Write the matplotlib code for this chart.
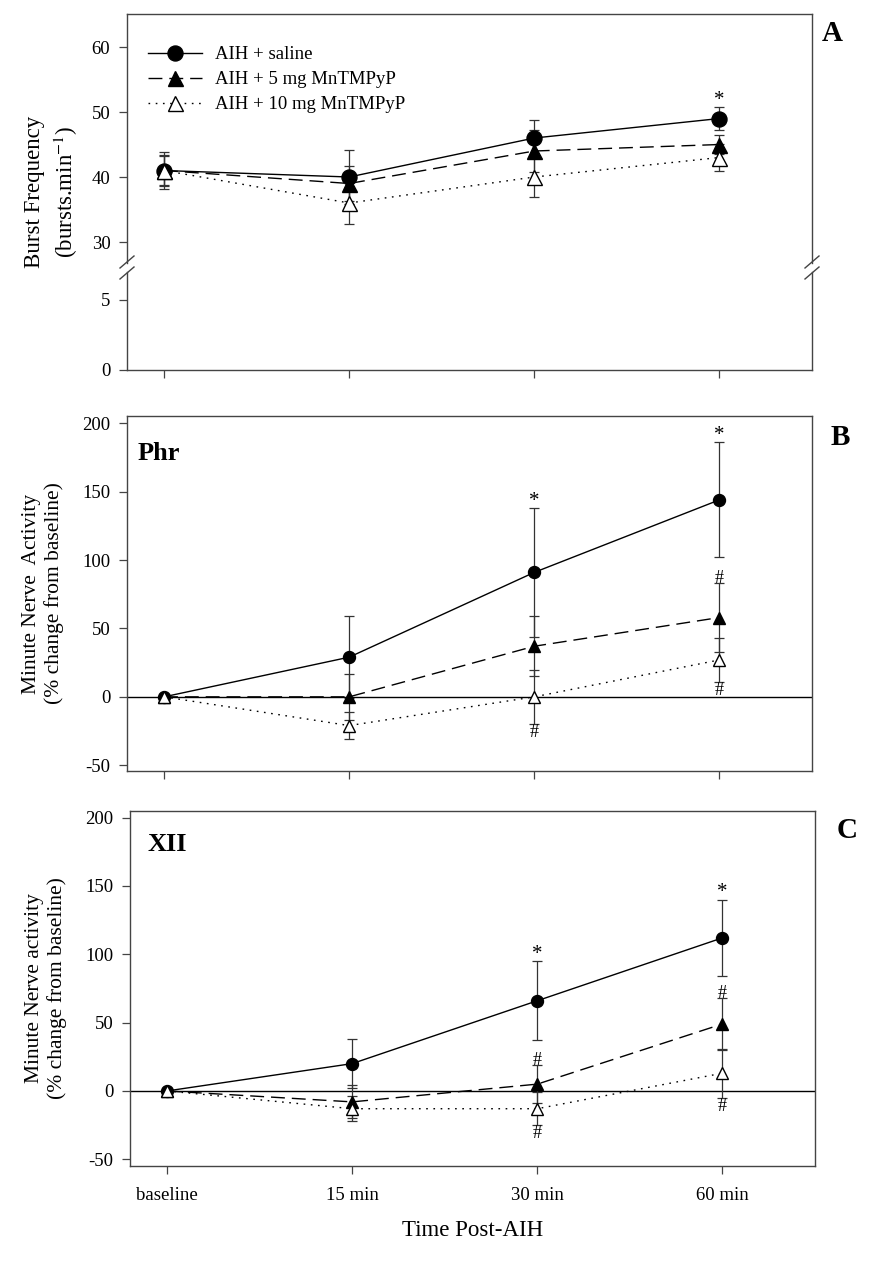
import numpy as np
import matplotlib
matplotlib.use("Agg")
import matplotlib.pyplot as plt
from matplotlib.lines import Line2D

plt.rcParams['font.family'] = ['Liberation Serif', 'DejaVu Serif']
plt.rcParams['mathtext.fontset'] = 'stix'
plt.rcParams['axes.unicode_minus'] = False

# ============================================================
# DATA
# ============================================================
time_labels = ["baseline", "15 min", "30 min", "60 min"]
group_labels = ["AIH + saline", "AIH + 5 mg MnTMPyP", "AIH + 10 mg MnTMPyP"]

# panel A - burst frequency (bursts/min)
freq_saline = [41, 40, 46, 49]
freq_saline_err = [2.4, 4.1, 2.8, 1.8]
freq_mn5 = [41, 39, 44, 45]
freq_mn5_err = [2.2, 2.7, 3.2, 1.5]
freq_mn10 = [41, 36, 40, 43]
freq_mn10_err = [2.8, 3.2, 3.0, 2.1]

# panel B - phrenic (% change from baseline)
phr_saline = [0, 29, 91, 144]
phr_saline_err = [0, 30, 47, 42]
phr_mn5 = [0, 0, 37, 58]
phr_mn5_err = [0, 17, 22, 25]
phr_mn10 = [0, -21, 0, 27]
phr_mn10_err = [0, 10, 19.5, 16]

# panel C - hypoglossal (% change from baseline)
xii_saline = [0, 20, 66, 112]
xii_saline_err = [0, 18, 29, 28]
xii_mn5 = [0, -8, 5, 49]
xii_mn5_err = [0, 12, 14, 19]
xii_mn10 = [0, -13, -13, 13]
xii_mn10_err = [0, 9, 12, 18]

# significance flags
freq_star = [0, 0, 0, 1]
phr_star = [0, 0, 1, 1]
phr_hash5 = [0, 0, 0, 1]
phr_hash10 = [0, 0, 1, 1]
xii_star = [0, 0, 1, 1]
xii_hash5 = [0, 0, 1, 1]
xii_hash10 = [0, 0, 1, 1]

# ============================================================
# STYLE
# ============================================================
W, H = 875, 1263
SPINE = "#444444"
ERR = "#333333"
styles = [
    dict(marker="o", mfc="black", mec="black", ls="-", dashes=(None, None)),
    dict(marker="^", mfc="black", mec="black", ls="--", dashes=(10, 5)),
    dict(marker="^", mfc="white", mec="black", ls=":", dashes=(1.2, 4)),
]

fig = plt.figure(figsize=(W / 100, H / 100), dpi=100)


def px_axes(left, top, right, bottom):
    return fig.add_axes([left / W, 1 - bottom / H, (right - left) / W, (bottom - top) / H])


def style_axes(ax):
    for s in ax.spines.values():
        s.set_color(SPINE)
        s.set_linewidth(1.0)
    ax.tick_params(direction="out", length=6, width=0.9, color=SPINE,
                   labelsize=13.5, pad=6, right=False, top=False)
    ax.set_xlim(-0.2, 3.5)
    ax.set_xticks(range(len(time_labels)))
    ax.set_xticklabels([])


def draw_series(ax, means, errs, ms=8.6):
    x = np.arange(len(time_labels))
    for m, e in zip(means, errs):
        ax.errorbar(x, m, yerr=e, fmt="none", ecolor=ERR, elinewidth=0.9,
                    capsize=3.6, capthick=0.9, zorder=2)
    for i, m in enumerate(means):
        st = styles[i]
        ln, = ax.plot(x, m, color="black", lw=1.0, linestyle=st["ls"],
                      marker=st["marker"], mfc=st["mfc"], mec=st["mec"],
                      ms=ms, mew=1.0, label=group_labels[i], zorder=3)
        if st["dashes"][0] is not None:
            ln.set_dashes(st["dashes"])


def mark(ax, means, errs, flags, sym, above=True):
    for i, f in enumerate(flags):
        if not f:
            continue
        if above:
            dy = -2 if sym == "*" else -3
            ax.annotate(sym, (i, means[i] + errs[i]), xytext=(0, dy),
                        textcoords="offset points", ha="center", va="bottom",
                        fontsize=15 if sym == "*" else 13, annotation_clip=False)
        else:
            ax.annotate(sym, (i, means[i] - errs[i]), xytext=(0, 0),
                        textcoords="offset points", ha="center", va="top",
                        fontsize=13, annotation_clip=False)


# ============================================================
# PANEL A (broken axis)
# ============================================================
axA = px_axes(127, 14, 812, 263)
axA0 = px_axes(127, 272, 812, 370)
for ax in (axA, axA0):
    style_axes(ax)
    draw_series(ax, [freq_saline, freq_mn5, freq_mn10],
                [freq_saline_err, freq_mn5_err, freq_mn10_err], ms=10.8)
axA.set_ylim(26.77, 65.08)
axA.set_yticks([30, 40, 50, 60])
axA.spines["bottom"].set_visible(False)
axA.tick_params(axis="x", bottom=False)
axA0.set_ylim(0, 7.0)
axA0.set_yticks([0, 5])
axA0.spines["top"].set_visible(False)
mark(axA, freq_saline, freq_saline_err, freq_star, "*")

for xb in (127, 812):
    for yb in (262, 273):
        fig.add_artist(Line2D([(xb - 7) / W, (xb + 7) / W],
                              [1 - (yb + 6) / H, 1 - (yb - 6) / H],
                              color=SPINE, lw=1.0))

axA.legend(loc="upper left", bbox_to_anchor=(0.03, 0.87), frameon=False,
           fontsize=13.5, handlelength=2.9, handletextpad=0.7,
           labelspacing=0.42, borderpad=0, borderaxespad=0)

fig.text(52 / W, 1 - 192 / H, "Burst Frequency\n(bursts.min$^{-1}$)",
         rotation=90, ha="center", va="center", fontsize=16.5, linespacing=1.3)
fig.text(832 / W, 1 - 41 / H, "A", ha="center", va="baseline",
         fontsize=21, fontweight="bold")

# ============================================================
# PANEL B
# ============================================================
axB = px_axes(127, 416, 812, 771)
style_axes(axB)
axB.axhline(0, color="black", lw=1.0, zorder=1)
draw_series(axB, [phr_saline, phr_mn5, phr_mn10],
            [phr_saline_err, phr_mn5_err, phr_mn10_err])
axB.set_ylim(-54.2, 205.3)
axB.set_yticks([-50, 0, 50, 100, 150, 200])
mark(axB, phr_saline, phr_saline_err, phr_star, "*")
mark(axB, phr_mn5, phr_mn5_err, phr_hash5, "#")
mark(axB, phr_mn10, phr_mn10_err, phr_hash10, "#", above=False)
axB.text(0.016, 0.876, "Phr", transform=axB.transAxes, fontsize=19,
         fontweight="bold", ha="left", va="baseline")
axB.set_ylabel("Minute Nerve  Activity\n(% change from baseline)",
               fontsize=15.5, linespacing=1.25, labelpad=13)
fig.text(840 / W, 1 - 445 / H, "B", ha="center", va="baseline",
         fontsize=21, fontweight="bold")

# ============================================================
# PANEL C
# ============================================================
axC = px_axes(130, 811, 815, 1166)
style_axes(axC)
axC.axhline(0, color="black", lw=1.0, zorder=1)
draw_series(axC, [xii_saline, xii_mn5, xii_mn10],
            [xii_saline_err, xii_mn5_err, xii_mn10_err])
axC.set_ylim(-54.9, 204.8)
axC.set_yticks([-50, 0, 50, 100, 150, 200])
mark(axC, xii_saline, xii_saline_err, xii_star, "*")
mark(axC, xii_mn5, xii_mn5_err, xii_hash5, "#")
mark(axC, xii_mn10, xii_mn10_err, xii_hash10, "#", above=False)
axC.text(0.025, 0.887, "XII", transform=axC.transAxes, fontsize=19,
         fontweight="bold", ha="left", va="baseline")
axC.set_ylabel("Minute Nerve activity\n(% change from baseline)",
               fontsize=15.5, linespacing=1.25, labelpad=13)
axC.set_xticklabels(time_labels)
axC.tick_params(axis="x", pad=9)
axC.set_xlabel("Time Post-AIH", fontsize=16.5, labelpad=12)
fig.text(847 / W, 1 - 838 / H, "C", ha="center", va="baseline",
         fontsize=21, fontweight="bold")

fig.savefig("out.png", dpi=100)
